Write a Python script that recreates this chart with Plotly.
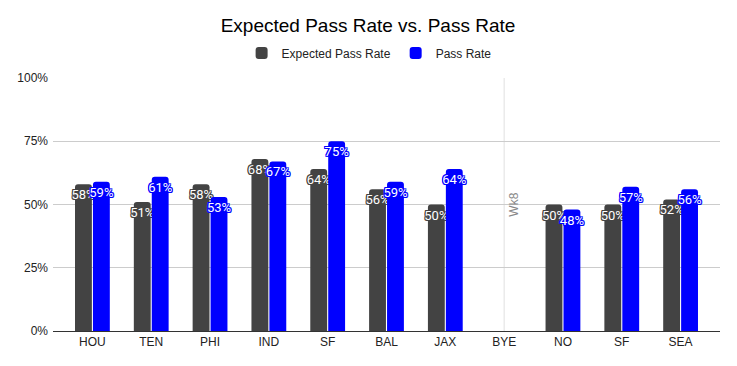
import plotly.graph_objects as go

opponents = ["HOU", "TEN", "PHI", "IND", "SF", "BAL", "JAX", "BYE", "NO", "SF", "SEA"]
expected_pass_rate = [0.58, 0.51, 0.58, 0.68, 0.64, 0.56, 0.50, None, 0.50, 0.50, 0.52]
pass_rate = [0.59, 0.61, 0.53, 0.67, 0.75, 0.59, 0.64, None, 0.48, 0.57, 0.56]
bye_week_label = "Wk8"
bye_index = opponents.index("BYE")

x_idx = list(range(len(opponents)))
GRAY = "#434343"
BLUE = "#0000ff"

# page has an 8px body margin; size figure so the plot lands where the reference is
W, H = 737 - 8, 366 - 8


def outline(c):
    return ", ".join(f"{dx}px {dy}px 0 {c}" for dx in (-1, 0, 1) for dy in (-1, 0, 1) if dx or dy)


def labels(vals):
    return [f"{round(v*100)}%" if v is not None else "" for v in vals]


fig = go.Figure()
for name, vals, col in [("Expected Pass Rate", expected_pass_rate, GRAY), ("Pass Rate", pass_rate, BLUE)]:
    fig.add_trace(go.Bar(
        name=name, x=x_idx, y=vals, marker=dict(color=col, cornerradius=3, line=dict(width=0)),
        text=labels(vals), textposition="inside", insidetextanchor="end", textangle=0,
        constraintext="none",
        insidetextfont=dict(family="Roboto, Arial, sans-serif", size=13, color="white",
                            shadow=outline(col)),
        hovertemplate="%{y:.0%}<extra>" + name + "</extra>",
    ))

fig.add_shape(type="line", x0=bye_index, x1=bye_index, y0=0, y1=1, xref="x", yref="y domain",
              line=dict(color="#e0e0e0", width=1), layer="below")
fig.add_annotation(x=bye_index, y=0.5, xref="x", yref="y", text=bye_week_label, textangle=-90,
                   showarrow=False, xshift=9, font=dict(size=12, color="#888888"))

fig.update_layout(
    width=W, height=H,
    margin=dict(l=45, r=17, t=70, b=35, autoexpand=False),
    paper_bgcolor="white", plot_bgcolor="white",
    font=dict(family="Liberation Sans, Arial, sans-serif", size=12, color="#222222"),
    title=dict(text="Expected Pass Rate vs. Pass Rate", x=(368 - 8) / W, xanchor="center",
               y=1 - 17 / H, yanchor="middle", font=dict(size=19, color="#000000")),
    legend=dict(orientation="h", x=0.5 - 19 / W, xanchor="center", y=1 - 45 / H, yref="container",
                yanchor="middle", font=dict(size=12, color="#222222"), itemclick=False),
    barmode="group", bargap=0.39, bargroupgap=0.06,
    showlegend=True,
)
fig.update_xaxes(tickvals=x_idx, ticktext=opponents, range=[-0.67, len(opponents) - 0.33],
                 showgrid=False, showline=True, linecolor="#333333", linewidth=1, ticks="",
                 tickfont=dict(size=12, color="#222222"))
fig.update_yaxes(range=[0, 1], tickvals=[0, 0.25, 0.5, 0.75, 1], tickformat=".0%",
                 gridcolor="#cccccc", zeroline=False, showline=False, ticks="",
                 ticklabelstandoff=4, tickfont=dict(size=12, color="#222222"))

fig.write_html("out.html")
